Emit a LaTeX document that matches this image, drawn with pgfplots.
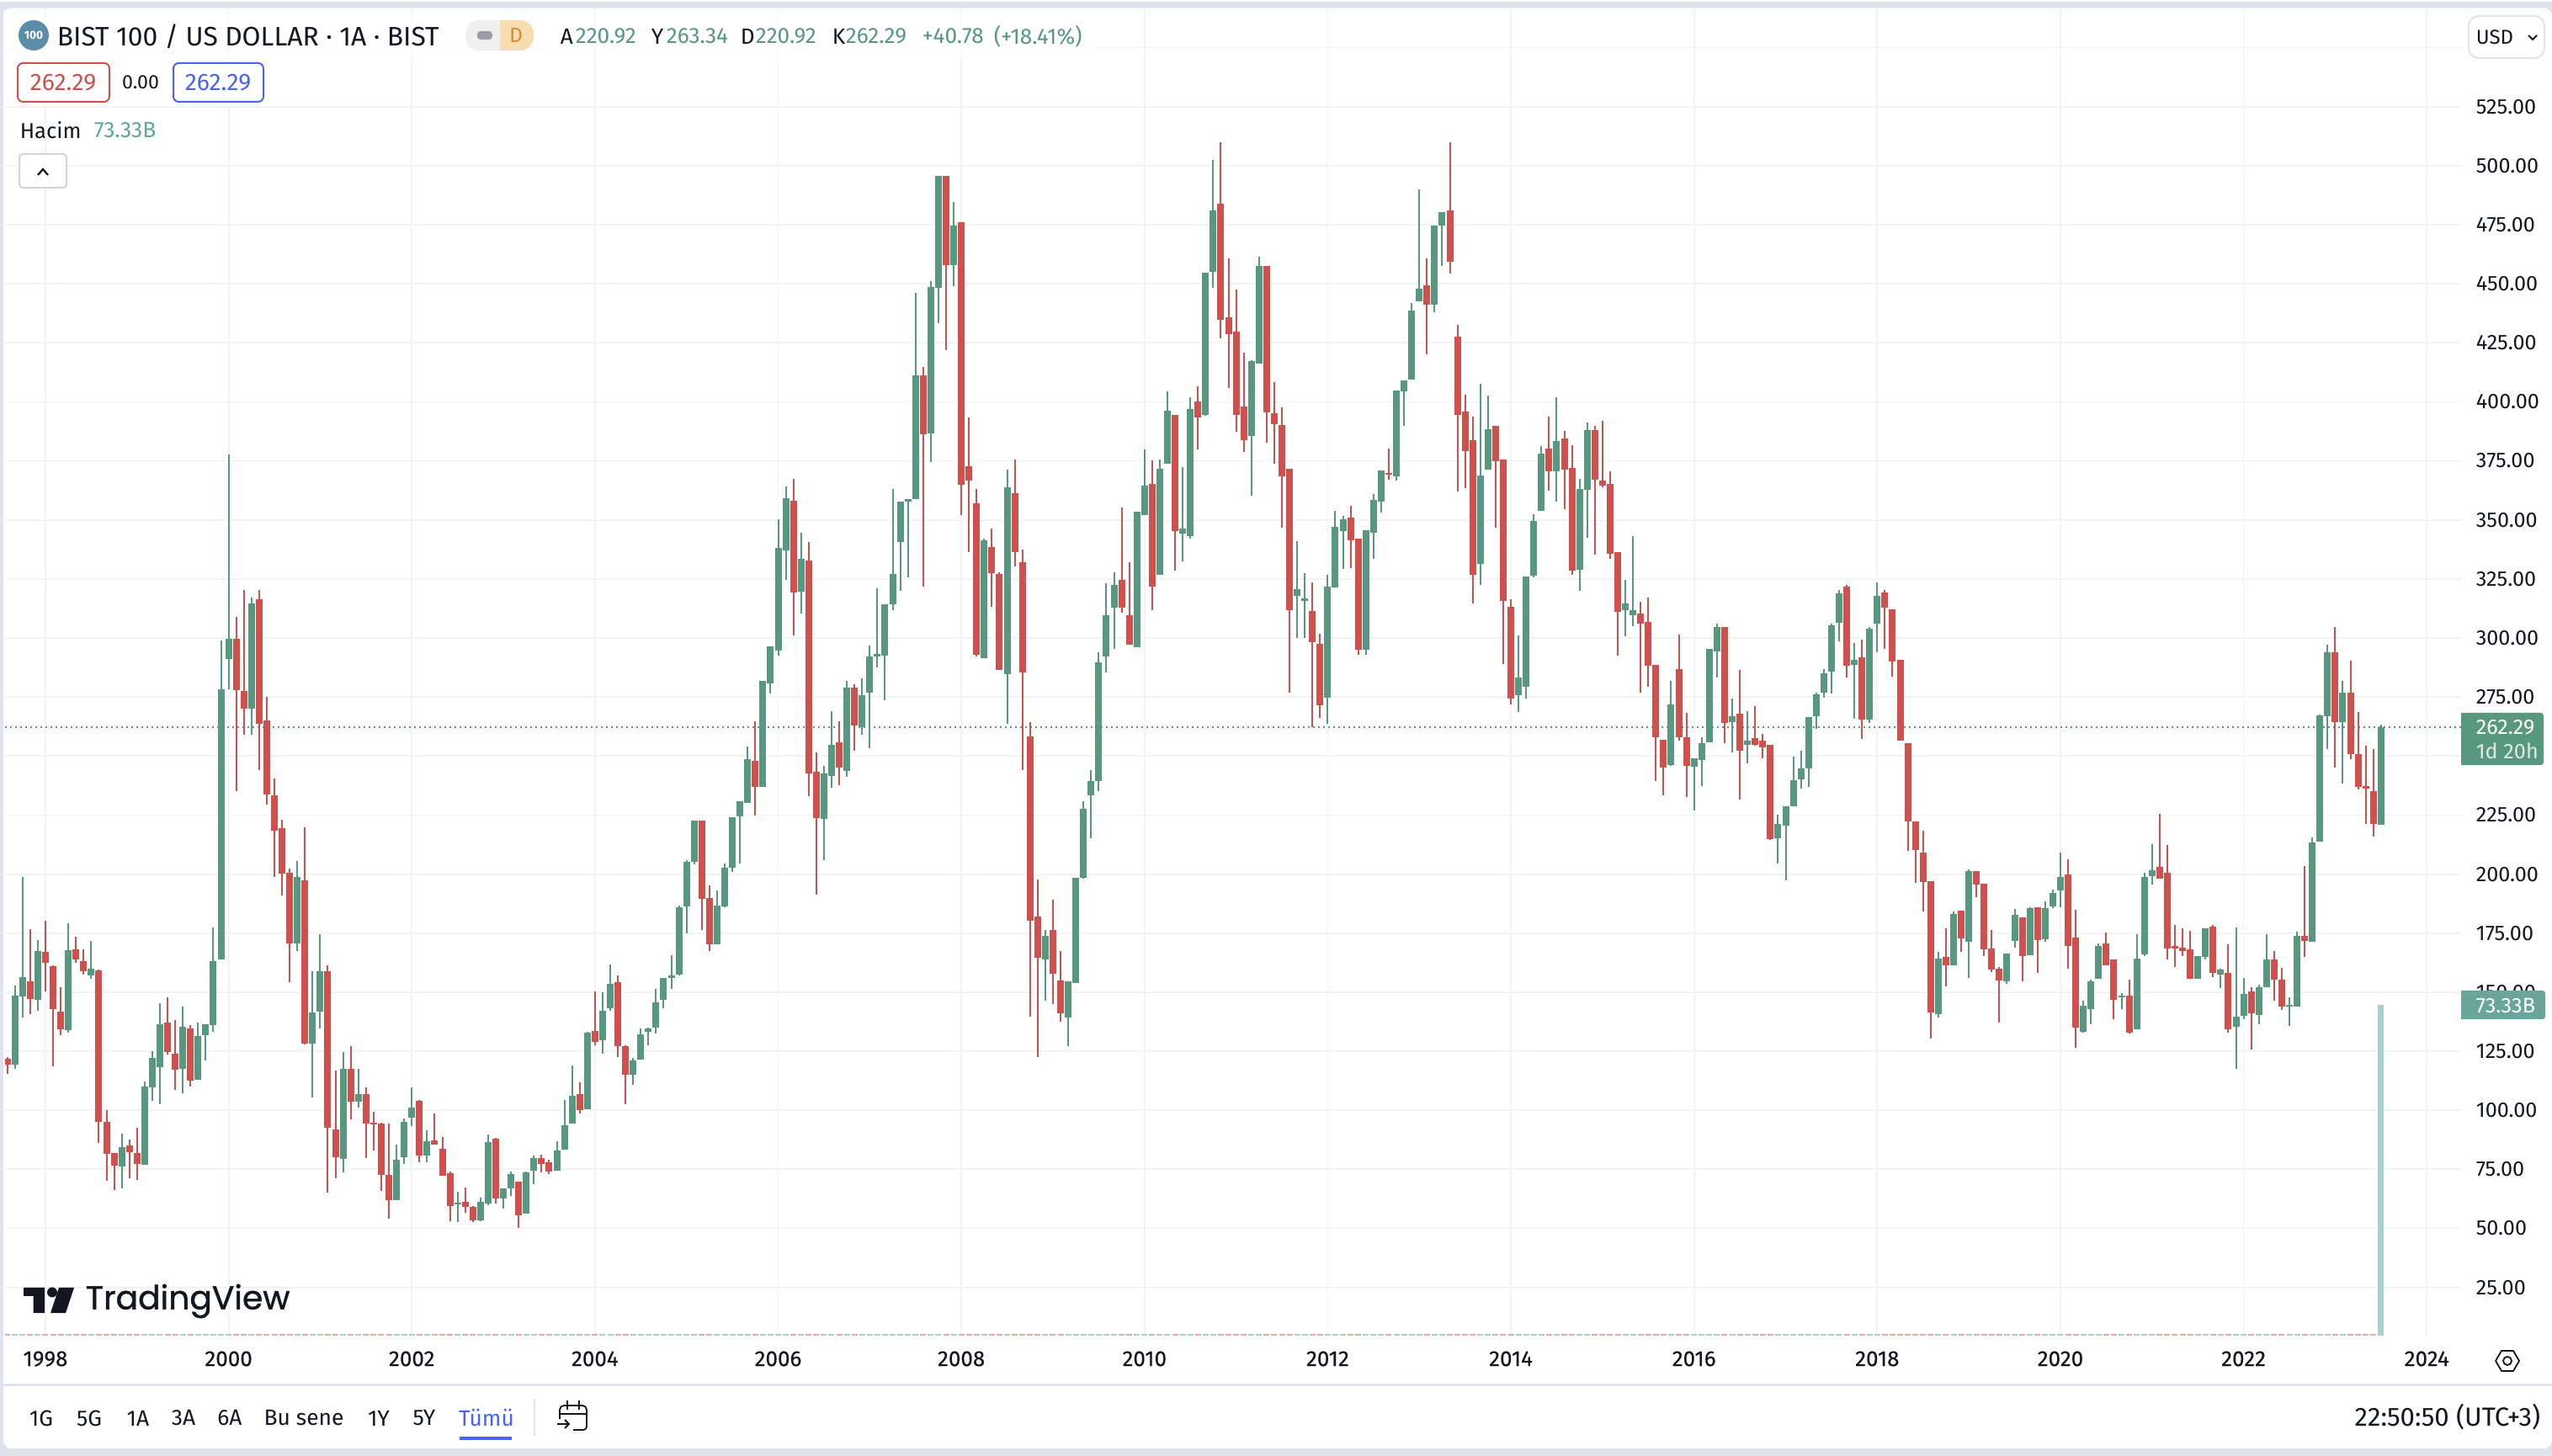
\documentclass[border=0pt]{standalone}
\usepackage{fontspec}
\setmainfont{Fira Sans}
\newfontfamily\wmfont{Poppins}
\usepackage{pgfplots}
\usepackage{pgfplotstable}
\pgfplotsset{compat=1.18}
\definecolor{cgreen}{HTML}{589780}
\definecolor{cred}{HTML}{D0504D}
\definecolor{vgreen}{HTML}{A9D0CB}
\definecolor{vred}{HTML}{E8AAA7}
\definecolor{ink}{HTML}{131722}
\definecolor{frame}{HTML}{E0E3EB}
\definecolor{gridc}{HTML}{F2F3F5}
\definecolor{cblue}{HTML}{4A63F0}
\newcommand{\fs}[1]{\fontsize{#1}{#1}\selectfont}
% month index n counts from Jan 1998, v is volume in billions
\pgfplotstableread{
n o h l c v
-5 121.8 122.7 115.5 119.3 0.37
-4 119.3 152.9 117.5 148.4 0.37
-3 148.2 198.9 139.3 156.4 0.37
-2 154.6 176.8 140.7 147.0 0.37
-1 146.6 172.0 142.0 167.3 0.37
0 167.0 180.2 150.2 162.5 0.37
1 160.9 161.2 118.6 142.7 0.37
2 141.6 152.0 131.8 134.3 0.37
3 133.9 179.3 132.7 167.7 0.37
4 168.0 173.4 162.5 163.9 0.37
5 163.0 168.0 157.5 158.9 0.37
6 157.1 171.6 155.7 159.8 0.37
7 159.1 159.6 86.1 95.0 0.37
8 95.0 100.2 70.2 81.6 0.37
9 81.8 81.8 66.1 76.6 0.37
10 76.1 90.0 66.8 84.5 0.37
11 85.0 87.7 71.1 82.3 0.37
12 82.0 92.5 70.5 77.3 0.37
13 76.8 112.1 76.8 110.2 0.37
14 109.8 125.0 103.9 122.1 0.37
15 118.2 145.2 102.5 136.4 0.37
16 137.3 148.0 123.7 124.6 0.37
17 124.1 138.2 108.6 117.3 0.37
18 117.5 143.9 107.3 135.2 0.37
19 134.8 135.9 110.0 112.5 0.37
20 113.0 137.0 113.0 131.4 0.37
21 131.8 136.6 121.1 136.4 0.37
22 136.1 177.3 133.2 163.0 0.37
23 163.9 299.1 163.9 278.4 0.37
24 291.1 377.7 278.2 299.5 0.37
25 299.5 308.9 235.2 278.0 0.37
26 277.7 320.5 259.1 270.0 0.37
27 270.0 317.0 259.1 314.5 0.37
28 316.4 320.2 244.1 263.6 0.37
29 265.0 275.2 229.3 233.6 0.37
30 233.2 240.5 198.9 218.4 0.37
31 219.3 223.2 190.9 200.2 0.37
32 200.5 202.3 154.3 170.7 0.37
33 170.7 205.5 167.5 198.7 0.37
34 197.5 219.8 128.0 128.2 0.37
35 128.2 158.9 105.5 141.4 0.37
36 141.8 174.5 134.6 158.9 0.37
37 158.9 161.4 65.2 92.5 0.37
38 92.0 117.0 71.1 80.0 0.37
39 79.3 124.6 73.6 117.7 0.37
40 117.7 127.0 96.2 103.6 0.37
41 103.6 117.5 101.1 106.8 0.37
42 106.8 109.6 79.8 94.3 0.37
43 94.8 99.3 83.0 94.1 0.37
44 94.3 94.8 65.9 72.7 0.37
45 72.5 94.5 54.1 61.8 0.37
46 61.8 85.5 61.8 78.9 0.37
47 80.0 96.4 77.3 95.2 0.37
48 96.8 109.6 93.2 101.1 0.37
49 103.9 104.3 77.9 80.9 0.37
50 80.9 91.4 77.9 86.8 0.37
51 87.1 98.7 85.5 85.5 0.37
52 83.8 88.7 72.3 72.3 0.37
53 73.4 74.1 53.1 59.4 0.37
54 60.0 65.6 52.7 60.9 0.37
55 61.2 67.2 56.7 59.1 0.37
56 59.1 59.4 52.7 53.4 0.37
57 53.4 63.1 53.1 61.2 0.37
58 60.5 89.8 59.8 86.7 0.37
59 87.8 88.3 60.5 62.7 0.37
60 62.7 67.1 58.2 67.1 0.37
61 67.1 74.1 63.8 72.9 0.37
62 69.8 69.8 50.2 55.6 0.37
63 56.3 74.1 56.3 73.6 0.37
64 74.5 80.7 68.7 79.8 0.37
65 79.8 81.2 73.8 77.2 0.37
66 78.0 79.2 73.1 74.1 0.37
67 74.5 86.9 74.5 83.0 0.37
68 83.4 104.3 83.4 93.6 0.37
69 94.3 119.0 94.3 106.1 0.37
70 106.9 111.8 98.7 100.1 0.37
71 100.5 133.2 100.5 132.8 0.37
72 133.6 150.3 127.6 129.0 0.37
73 129.6 149.9 123.9 142.1 0.37
74 143.2 161.7 142.1 153.5 0.37
75 154.3 157.0 122.5 127.2 0.37
76 127.2 127.6 102.7 115.0 0.37
77 115.0 122.1 110.8 121.0 0.37
78 121.4 134.6 121.4 132.1 0.37
79 133.2 135.0 127.6 134.6 0.37
80 135.0 151.4 132.5 145.7 0.37
81 146.8 155.9 143.2 155.9 0.37
82 156.1 165.5 151.4 157.0 0.37
83 157.4 186.6 157.0 186.1 0.37
84 186.2 205.9 174.8 205.1 0.37
85 205.1 222.6 204.1 222.6 0.37
86 222.6 222.6 176.3 189.5 0.37
87 189.9 195.2 167.4 170.3 0.37
88 170.3 193.0 170.3 186.6 0.37
89 186.2 204.4 185.9 202.6 0.37
90 202.6 224.0 200.8 224.0 0.37
91 224.4 230.8 204.4 230.8 0.37
92 230.0 254.2 230.0 248.6 0.37
93 247.8 264.9 224.8 237.1 0.37
94 236.8 282.0 236.8 282.0 0.37
95 280.9 296.4 276.4 296.4 0.37
96 294.6 350.2 292.5 338.1 0.37
97 337.1 364.2 324.5 359.2 0.37
98 358.1 367.4 301.0 319.3 0.37
99 319.6 344.5 310.2 333.5 0.37
100 332.7 340.6 233.0 242.6 0.37
101 243.3 251.5 191.3 223.7 0.37
102 223.3 246.0 205.9 242.6 0.37
103 241.5 268.9 236.4 254.9 0.37
104 255.7 264.9 237.5 245.1 0.37
105 243.7 282.0 241.1 278.9 0.37
106 278.9 280.4 252.2 262.9 0.37
107 262.3 282.9 258.9 275.9 0.37
108 276.7 296.8 253.4 292.1 0.37
109 292.1 321.1 287.4 293.1 0.37
110 292.6 314.3 273.5 314.1 0.37
111 314.1 363.2 311.9 327.1 0.37
112 340.7 357.7 320.1 357.7 0.37
113 357.7 358.8 325.8 358.8 0.37
114 358.8 446.1 358.8 411.3 0.37
115 411.3 414.7 321.9 386.2 0.37
116 386.5 451.1 374.4 448.7 0.37
117 448.4 495.8 433.3 495.8 0.37
118 495.8 495.8 421.8 457.9 0.37
119 457.9 484.8 449.0 474.6 0.37
120 476.2 476.2 352.0 365.0 0.37
121 372.6 393.5 336.5 366.6 0.37
122 357.2 363.2 292.3 292.9 0.37
123 291.5 342.0 291.5 341.2 0.37
124 338.6 346.5 313.3 327.6 0.37
125 327.1 327.9 286.6 286.6 0.37
126 284.8 371.3 263.6 363.7 0.37
127 361.4 375.5 330.3 336.3 0.37
128 332.1 337.6 244.0 285.5 0.37
129 258.3 264.4 139.6 180.4 0.37
130 182.2 197.9 122.6 164.5 0.37
131 163.9 176.2 146.4 173.9 0.37
132 176.2 189.0 145.1 157.7 0.37
133 154.8 167.3 137.5 141.2 0.37
134 139.1 154.5 127.3 154.5 0.37
135 153.8 198.5 153.8 198.5 0.37
136 198.5 230.9 198.2 227.8 0.37
137 233.2 244.0 215.2 239.5 0.37
138 239.3 293.9 235.3 289.7 0.37
139 292.3 323.2 285.3 309.6 0.37
140 312.7 327.9 295.5 322.4 0.37
141 324.5 355.4 310.7 313.0 0.37
142 309.6 332.1 297.0 297.0 0.37
143 296.0 353.3 296.0 353.3 0.37
144 352.2 379.9 352.2 364.5 0.37
145 365.3 375.2 311.9 321.9 0.37
146 326.9 375.5 326.7 371.6 0.37
147 373.9 404.5 373.9 396.4 0.37
148 394.6 394.6 328.7 345.4 0.37
149 344.1 372.4 332.6 346.5 0.37
150 343.1 401.9 342.0 396.9 0.37
151 400.3 406.4 379.9 393.5 0.37
152 394.3 454.7 394.1 454.7 0.37
153 455.0 502.6 448.4 480.9 0.37
154 484.0 509.9 426.8 434.6 0.37
155 435.9 460.8 405.9 428.6 0.37
156 429.9 447.7 387.3 394.6 0.37
157 398.0 421.0 378.6 383.9 0.37
158 385.4 417.6 360.3 417.3 0.37
159 416.3 461.3 416.3 457.4 0.37
160 457.4 457.4 382.6 395.4 0.37
161 395.1 408.2 373.9 390.4 0.37
162 390.3 397.7 346.7 368.5 0.37
163 371.6 371.6 276.8 311.9 0.37
164 318.0 341.1 300.1 320.8 0.37
165 315.8 327.4 300.1 316.7 0.37
166 311.5 323.7 262.3 298.3 0.37
167 297.6 301.8 266.0 271.6 0.37
168 274.7 326.6 263.8 321.8 0.37
169 321.3 353.8 321.3 347.2 0.37
170 345.3 351.8 329.3 350.1 0.37
171 351.1 356.1 329.6 341.4 0.37
172 342.2 342.2 293.0 295.2 0.37
173 295.2 345.8 293.0 345.8 0.37
174 344.6 361.0 333.5 358.3 0.37
175 357.9 371.1 353.2 371.1 0.37
176 370.0 380.3 367.1 369.2 0.37
177 368.5 404.7 366.5 404.7 0.37
178 404.5 408.9 389.7 408.9 0.37
179 409.6 442.0 409.6 438.8 0.37
180 442.7 489.8 442.7 447.8 0.37
181 449.5 460.6 420.2 441.0 0.37
182 441.3 474.7 438.1 474.7 0.37
183 474.7 480.4 457.7 480.4 0.37
184 480.9 510.0 454.5 459.4 0.37
185 427.7 432.5 362.0 394.6 0.37
186 396.0 403.1 363.6 379.3 0.37
187 383.9 393.6 314.5 326.9 0.37
188 331.2 407.7 322.6 368.9 0.37
189 371.4 402.8 371.4 388.5 0.37
190 390.0 390.0 346.7 375.0 0.37
191 375.7 375.7 289.0 315.8 0.37
192 313.3 316.5 272.0 274.4 0.37
193 275.6 301.2 268.8 283.4 0.37
194 279.2 326.2 274.4 326.2 0.37
195 326.5 352.5 325.7 349.7 0.37
196 354.0 381.1 354.0 378.2 0.37
197 380.3 393.6 362.5 370.4 0.37
198 370.4 402.1 357.9 383.5 0.37
199 384.5 387.8 354.4 371.4 0.37
200 372.1 381.5 326.9 328.6 0.37
201 329.0 367.5 320.1 363.2 0.37
202 362.9 391.4 342.6 388.1 0.37
203 388.1 390.0 335.4 367.1 0.37
204 366.5 392.0 363.9 364.6 0.37
205 365.4 370.7 333.5 335.8 0.37
206 336.5 336.5 292.6 311.2 0.37
207 311.9 324.7 300.6 314.5 0.37
208 309.7 343.3 305.1 311.6 0.37
209 310.5 315.5 276.9 306.1 0.37
210 306.9 317.2 279.2 288.4 0.37
211 288.5 288.5 239.6 258.1 0.37
212 257.0 257.0 233.2 245.0 0.37
213 246.3 281.7 245.7 272.0 0.37
214 286.8 301.5 256.4 258.1 0.37
215 258.1 268.2 232.7 246.0 0.37
216 245.4 248.9 226.8 248.9 0.37
217 248.4 258.1 237.4 255.5 0.37
218 255.9 295.5 255.9 295.5 0.37
219 294.4 305.9 283.4 304.8 0.37
220 304.8 304.8 255.5 263.9 0.37
221 264.2 274.5 251.6 266.7 0.37
222 268.1 286.6 231.7 252.1 0.37
223 254.9 269.1 246.9 256.7 0.37
224 257.5 271.0 254.4 254.9 0.37
225 256.4 259.5 248.9 253.8 0.37
226 254.6 254.6 214.5 215.0 0.37
227 215.3 225.3 204.6 221.3 0.37
228 220.7 228.8 197.4 228.8 0.37
229 228.8 249.8 228.8 239.7 0.37
230 240.3 252.1 236.3 244.6 0.37
231 244.6 266.4 237.1 266.4 0.37
232 267.0 277.0 261.6 276.3 0.37
233 276.9 286.9 274.8 285.2 0.37
234 285.8 306.2 276.6 305.5 0.37
235 306.5 320.5 298.7 318.8 0.37
236 321.6 322.6 283.1 288.3 0.37
237 288.7 297.8 265.9 290.6 0.37
238 291.7 299.2 257.3 265.3 0.37
239 265.3 304.8 263.9 304.1 0.37
240 305.9 323.4 293.8 318.0 0.37
241 319.4 320.2 295.5 313.0 0.37
242 312.2 312.2 283.7 290.1 0.37
243 290.9 290.9 256.7 256.7 0.37
244 255.5 255.5 209.9 222.4 0.37
245 222.4 222.4 196.3 210.3 0.37
246 209.2 218.4 184.2 196.6 0.37
247 197.1 197.1 130.4 141.4 0.37
248 140.7 167.2 139.3 164.3 0.37
249 165.0 177.2 152.5 161.4 0.37
250 161.4 184.2 161.4 183.2 0.37
251 184.7 184.7 167.2 172.7 0.37
252 171.3 201.9 156.0 201.4 0.37
253 201.4 201.4 190.4 195.7 0.37
254 196.0 196.0 165.2 168.1 0.37
255 168.6 176.4 158.6 159.7 0.37
256 160.0 160.5 137.1 154.9 0.37
257 154.6 166.4 153.5 166.4 0.37
258 171.8 185.3 168.9 182.8 0.37
259 181.8 181.8 154.6 165.2 0.37
260 165.7 186.1 165.7 185.6 0.37
261 186.1 186.1 158.3 172.1 0.37
262 172.4 188.5 171.3 185.6 0.37
263 186.3 193.6 185.5 192.2 0.37
264 193.1 209.2 186.0 198.9 0.37
265 200.0 206.3 160.0 169.5 0.37
266 173.2 185.0 126.4 135.0 0.37
267 133.3 146.5 132.8 144.3 0.37
268 142.8 155.4 136.4 154.6 0.37
269 155.7 170.5 155.7 169.5 0.37
270 170.7 175.3 161.4 161.4 0.37
271 164.0 164.0 138.5 146.8 0.37
272 148.0 149.6 142.8 148.7 0.37
273 148.7 155.2 132.5 133.0 0.37
274 134.2 174.6 134.2 164.3 0.37
275 166.0 200.4 165.3 198.7 0.37
276 199.2 212.8 195.5 201.8 0.37
277 202.9 225.4 198.0 198.0 0.37
278 200.6 212.5 163.9 168.6 0.37
279 169.5 178.4 160.6 168.6 0.37
280 169.0 177.0 165.3 167.4 0.37
281 168.1 176.0 155.7 155.7 0.37
282 155.7 165.3 155.7 165.3 0.37
283 165.1 177.2 163.9 177.2 0.37
284 177.9 178.6 156.4 158.3 0.37
285 157.6 160.1 151.7 159.7 0.37
286 158.3 170.4 132.8 134.2 0.37
287 135.4 177.5 117.6 139.6 0.37
288 140.0 156.2 138.6 149.2 0.37
289 150.3 152.2 125.8 141.0 0.37
290 140.3 153.1 136.3 152.2 0.37
291 152.0 174.4 152.0 163.7 0.37
292 163.7 167.6 146.3 155.2 0.37
293 155.2 160.4 142.4 143.8 0.37
294 143.8 147.7 135.8 144.7 0.37
295 144.0 175.8 144.0 173.9 0.37
296 173.9 203.6 164.8 171.6 0.37
297 171.4 215.6 171.4 213.5 0.37
298 213.7 267.5 213.7 267.2 0.37
299 267.0 297.2 252.8 293.9 0.37
300 293.9 304.7 245.3 264.5 0.37
301 264.5 282.0 238.3 276.9 0.37
302 276.9 290.4 248.6 250.7 0.37
303 250.9 268.7 235.9 237.1 0.37
304 237.3 254.4 221.2 236.2 0.37
305 235.0 252.8 216.0 221.4 0.37
306 220.92 263.34 220.92 262.29 73.33
}\candles
\pgfplotsset{
  bar line/.style n args={2}{draw=none, mark=none, forget plot,
    error bars/.cd, y dir=plus, y explicit, error mark=none,
    error bar style={line width=#1, draw=#2, line cap=butt, solid}},
  x range/.style={xmin=-5.29, xmax=316.5, width=729.5pt, scale only axis, clip=true},
}
\begin{document}
\begin{tikzpicture}
% page and frame, 1px = 0.25pt, origin top left
\useasboundingbox (0,0) rectangle (758pt,-432.5pt);
\fill[white] (0,0) rectangle (758pt,-432.5pt);
\fill[frame] (0,-.5pt) rectangle (758pt,-432.5pt);
\fill[white,rounded corners=2.5pt] (1pt,-2.4pt) rectangle (758pt,-430.3pt);

\begin{axis}[
  x range, height=394.25pt,
  at={(1.5pt,-396.75pt)}, anchor=south west,
  ymin=4.56, ymax=566.6,
  axis line style={draw=none},
  major tick length=0pt,
  tick style={draw=none},
  xtick={0,24,...,312},
  xticklabels={1998,2000,2002,2004,2006,2008,2010,2012,2014,2016,2018,2020,2022,2024},
  ytick={25,50,...,525},
  extra y ticks={550},
  extra y tick labels={},
  yticklabel pos=right,
  grid=major,
  grid style={line width=.45pt, color=gridc},
  ticklabel style={font=\fs{6.3pt}, text=ink},
  xticklabel style={yshift=-1.1pt, font=\fs{6.5pt}\addfontfeatures{FakeBold=0.3}},
  yticklabel style={anchor=west, inner sep=0pt, xshift=4.25pt},
  /pgf/number format/assume math mode=true,
  /pgf/number format/fixed,
  /pgf/number format/fixed zerofill,
  /pgf/number format/precision=2,
  /pgf/number format/1000 sep={},
]
\addplot[forget plot, color=cgreen, line width=.5pt, dash pattern=on .5pt off 1pt]
  coordinates {(-5.29,262.29) (316.5,262.29)};
\addplot[bar line={.5pt}{cgreen}] table[x expr={\thisrow{c}>=\thisrow{o} ? \thisrow{n} : nan}, y=l, y error plus expr=\thisrow{h}-\thisrow{l}] {\candles};
\addplot[bar line={.5pt}{cred}] table[x expr={\thisrow{c}<\thisrow{o} ? \thisrow{n} : nan}, y=l, y error plus expr=\thisrow{h}-\thisrow{l}] {\candles};
\addplot[bar line={2pt}{cgreen}] table[x expr={\thisrow{c}>=\thisrow{o} ? \thisrow{n} : nan}, y=o, y error plus expr=\thisrow{c}-\thisrow{o}] {\candles};
\addplot[bar line={2pt}{cred}] table[x expr={\thisrow{c}<\thisrow{o} ? \thisrow{n} : nan}, y=c, y error plus expr=\thisrow{o}-\thisrow{c}] {\candles};
\end{axis}

% volume pane, same x range
\begin{axis}[
  x range, height=394.25pt,
  at={(1.5pt,-396.75pt)}, anchor=south west,
  ymin=0, ymax=294.2,
  hide axis,
]
\addplot[bar line={1.75pt}{vgreen}] table[x expr={\thisrow{c}>=\thisrow{o} ? \thisrow{n} : nan}, y expr=0, y error plus=v] {\candles};
\addplot[bar line={1.75pt}{vred}] table[x expr={\thisrow{c}<\thisrow{o} ? \thisrow{n} : nan}, y expr=0, y error plus=v] {\candles};
\end{axis}

\begin{scope}[x=.25pt,y=-.25pt]
% footer separator
\fill[frame] (4,1644) rectangle (3032,1647);

% header backdrop
\fill[white,opacity=.6] (4,12) rectangle (1305,72);
\fill[white,opacity=.6] (4,74) rectangle (320,125);

% symbol line
\fill[color={rgb,255:red,91;green,141;blue,168}] (40,42) circle (18);
\node[text=white,font=\fs{3.4pt}\bfseries,inner sep=0] at (40,42) {100};
\node[anchor=west,inner sep=0,text=ink,font=\fs{7.95pt}] at (67,43) {BIST 100 / US DOLLAR · 1A · BIST};
\fill[color=black!6,rounded corners=4pt] (553,24) rectangle (625,60);
\fill[color={rgb,255:red,247;green,221;blue,178},rounded corners=4pt] (610,24) rectangle (634,60);
\fill[color={rgb,255:red,247;green,221;blue,178}] (594,24) rectangle (620,60);
\fill[color={rgb,255:red,154;green,157;blue,165},rounded corners=1pt] (567,37) rectangle (585,47);
\node[text={rgb,255:red,222;green,138;blue,46},font=\fs{6.2pt},inner sep=0] at (613,42) {D};

\begin{scope}[every node/.style={anchor=west,inner sep=0,font=\fs{6.55pt}}]
\node[text=ink] at (665,43) {A};
\node[text=cgreen] at (683,43) {220.92};
\node[text=ink] at (773,43) {Y};
\node[text=cgreen] at (791,43) {263.34};
\node[text=ink] at (879,43) {D};
\node[text=cgreen] at (897,43) {220.92};
\node[text=ink] at (988,43) {K};
\node[text=cgreen] at (1004,43) {262.29};
\node[text=cgreen] at (1095,43) {+40.78};
\node[text=cgreen] at (1180,43) {(+18.41\%)};
\end{scope}

% bid / ask boxes
\draw[cred,line width=.5pt,rounded corners=1.6pt,fill=white] (21,75) rectangle (130,121);
\node[text=cred,font=\fs{7.1pt},inner sep=0] at (75,98) {262.29};
\node[text=ink,font=\fs{5.8pt},inner sep=0] at (167,98) {0.00};
\draw[cblue,line width=.5pt,rounded corners=1.6pt,fill=white] (206,75) rectangle (313,121);
\node[text=cblue,font=\fs{7.1pt},inner sep=0] at (259,98) {262.29};

% volume legend
\node[anchor=west,text=ink,font=\fs{6.4pt},inner sep=0] at (23,155) {Hacim};
\node[anchor=west,text={rgb,255:red,95;green,168;blue,154},font=\fs{6.6pt},inner sep=0] at (111,155) {73.33B};

% collapse button
\draw[color={rgb,255:red,209;green,212;blue,220},line width=.5pt,rounded corners=1pt,fill=white] (23,183) rectangle (79,223);
\draw[ink,line width=.55pt] (45,208) -- (51,201) -- (57,208);

% currency button
\draw[frame,line width=.5pt,rounded corners=3pt,fill=white] (2933,19) rectangle (3023,69);
\node[anchor=west,text=ink,font=\fs{6pt},inner sep=0] at (2941,44) {USD};
\draw[ink,line width=.5pt] (3004,42) -- (3009,47) -- (3014,42);

% price tags
\fill[cgreen,rounded corners=.8pt] (2930,847) rectangle (3022,909);
\fill[cgreen] (2924,847) rectangle (2940,909);
\node[anchor=west,text=white,font=\fs{6.3pt},inner sep=0] at (2941,864) {262.29};
\node[anchor=west,text=white!80!cgreen,font=\fs{6.3pt},inner sep=0] at (2941,892) {1d 20h};
\fill[color={rgb,255:red,105;green,165;blue,155},rounded corners=.8pt] (2930,1177) rectangle (3024,1211);
\fill[color={rgb,255:red,105;green,165;blue,155}] (2924,1177) rectangle (2940,1211);
\node[anchor=west,text=white,font=\fs{6.3pt},inner sep=0] at (2941,1195) {73.33B};

% watermark
\fill[ink] (28,1530) -- (53,1530) -- (53,1560) -- (39.5,1560) -- (39.5,1540) -- (28,1540) -- cycle;
\fill[ink] (62,1535.5) circle (6);
\fill[ink] (70,1530) -- (88,1530) -- (78,1560) -- (60,1560) -- cycle;
\node[anchor=west,inner sep=0,text=ink,font=\wmfont\fs{9.8pt}\addfontfeatures{FakeBold=1.1}] at (101,1546) {TradingView};

% settings icon
\draw[ink,line width=.45pt,line join=round] (2965,1617) -- (2972,1605) -- (2986,1605) -- (2993,1617) -- (2986,1629) -- (2972,1629) -- cycle;
\draw[ink,line width=.45pt] (2979,1617) ellipse (5 and 5);

% range bar
\begin{scope}[every node/.style={inner sep=0,text=ink,font=\fs{6.6pt}}]
\node at (49,1685) {1G};
\node at (106,1685) {5G};
\node at (164,1685) {1A};
\node at (218,1685) {3A};
\node at (273,1685) {6A};
\node at (361,1685) {Bu sene};
\node at (450,1685) {1Y};
\node at (504,1685) {5Y};
\node[text=cblue] at (578,1685) {Tümü};
\end{scope}
\fill[cblue] (546,1707) rectangle (608,1711);
\fill[frame] (634,1662) rectangle (636,1706);
\begin{scope}[ink,line width=.45pt]
\draw (665,1686) -- (665,1675) arc (180:270:5) -- (692,1670) arc (-90:0:5) -- (697,1695) arc (0:90:4) -- (681,1699);
\draw (665,1680) -- (697,1680);
\draw (674,1664) -- (674,1675) (688,1664) -- (688,1675);
\draw (662,1692) -- (676,1692) (671,1687) -- (676,1692) -- (671,1697);
\end{scope}
\node[anchor=east,inner sep=0,text=ink,font=\fs{7.8pt}] at (3019,1684) {22:50:50 (UTC+3)};
\end{scope}
\end{tikzpicture}
\end{document}
